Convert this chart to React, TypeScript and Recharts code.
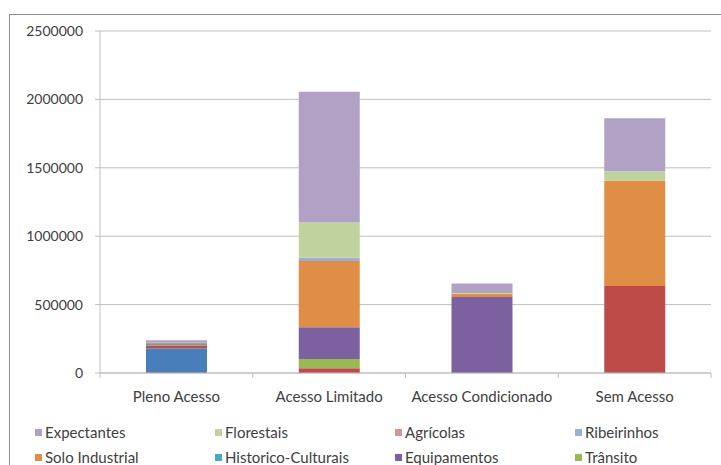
import React from 'react';
import { BarChart, Bar, XAxis, YAxis, CartesianGrid } from 'recharts';

const categories = ['Pleno Acesso', 'Acesso Limitado', 'Acesso Condicionado', 'Sem Acesso'];

// stacked bottom to top
const serieAzul = [180000, 0, 0, 0];
const serieVermelha = [18000, 34000, 0, 636000];
const transito = [8000, 68000, 0, 0];
const equipamentos = [12000, 232000, 555000, 0];
const historicoCulturais = [0, 0, 0, 0];
const soloIndustrial = [0, 485000, 25000, 770000];
const ribeirinhos = [0, 24000, 0, 0];
const agricolas = [0, 0, 0, 0];
const florestais = [3000, 258000, 5000, 68000];
const expectantes = [18000, 955000, 70000, 388000];

const yTicks = [0, 500000, 1000000, 1500000, 2000000, 2500000];

const series = [
  { key: 'azul', values: serieAzul, color: '#4A7EBB', legend: false },
  { key: 'vermelha', values: serieVermelha, color: '#BE4B48', legend: false },
  { key: 'Trânsito', values: transito, color: '#98B954', legend: true },
  { key: 'Equipamentos', values: equipamentos, color: '#7D60A0', legend: true },
  { key: 'Historico-Culturais', values: historicoCulturais, color: '#46AAC5', legend: true },
  { key: 'Solo Industrial', values: soloIndustrial, color: '#E08D45', legend: true },
  { key: 'Ribeirinhos', values: ribeirinhos, color: '#97B0D6', legend: true },
  { key: 'Agrícolas', values: agricolas, color: '#D89594', legend: true },
  { key: 'Florestais', values: florestais, color: '#C0D39E', legend: true },
  { key: 'Expectantes', values: expectantes, color: '#B1A2C5', legend: true },
];

const data = categories.map((name, i) => {
  const row: Record<string, string | number> = { name };
  series.forEach((s) => { row[s.key] = s.values[i]; });
  return row;
});

// legend reads top series first, like the original
const legendItems = series.filter((s) => s.legend).reverse();

const FONT = 'Lato, sans-serif';
const TEXT = '#404040';
const GRID = '#BFBFBF';
const PLOT_W = 611;
const BAND = PLOT_W / categories.length;

const CategoryTick = (props: any) => {
  const { x, y, payload, index } = props;
  const last = index === categories.length - 1;
  return (
    <g>
      <line x1={x - BAND / 2} x2={x - BAND / 2} y1={y} y2={y + 5} stroke={GRID} />
      {last && <line x1={x + BAND / 2} x2={x + BAND / 2} y1={y} y2={y + 5} stroke={GRID} />}
      <text x={x} y={y + 29} textAnchor="middle" fill={TEXT} fontSize={15} fontFamily={FONT}>
        {payload.value}
      </text>
    </g>
  );
};

export default function App() {
  return (
    <div style={{ position: 'absolute', left: 0, top: 0, width: 721, height: 465, overflow: 'hidden', background: '#fff' }}>
      <div style={{ position: 'absolute', left: 9, top: 14, width: 800, height: 600, border: '1px solid #8C8C8C' }} />
      <div style={{ position: 'absolute', left: 0, top: 0 }}>
        <BarChart width={721} height={465} data={data} margin={{ top: 31, right: 10, left: 0, bottom: 62 }} barCategoryGap="30%">
          <CartesianGrid vertical={false} stroke={GRID} />
          <XAxis dataKey="name" height={30} tickSize={0} tickMargin={0} tickLine={false} stroke={GRID} tick={<CategoryTick />} interval={0} />
          <YAxis
            width={100}
            domain={[0, 2500000]}
            ticks={yTicks}
            tickSize={5}
            tickMargin={12}
            stroke={GRID}
            tick={{ fill: TEXT, fontSize: 14, fontFamily: FONT }}
          />
          {series.map((s) => (
            <Bar key={s.key} dataKey={s.key} stackId="a" fill={s.color} barSize={61} isAnimationActive={false} />
          ))}
        </BarChart>
      </div>
      {legendItems.map((s, i) => (
        <div
          key={s.key}
          style={{
            position: 'absolute',
            left: 35 + (i % 4) * 180,
            top: 423 + Math.floor(i / 4) * 25,
            display: 'flex',
            alignItems: 'center',
            fontFamily: FONT,
            fontSize: 15,
            color: TEXT,
            whiteSpace: 'nowrap',
            lineHeight: '18px',
          }}
        >
          <span style={{ display: 'inline-block', width: 7, height: 7, background: s.color, marginRight: 3 }} />
          {s.key}
        </div>
      ))}
    </div>
  );
}
